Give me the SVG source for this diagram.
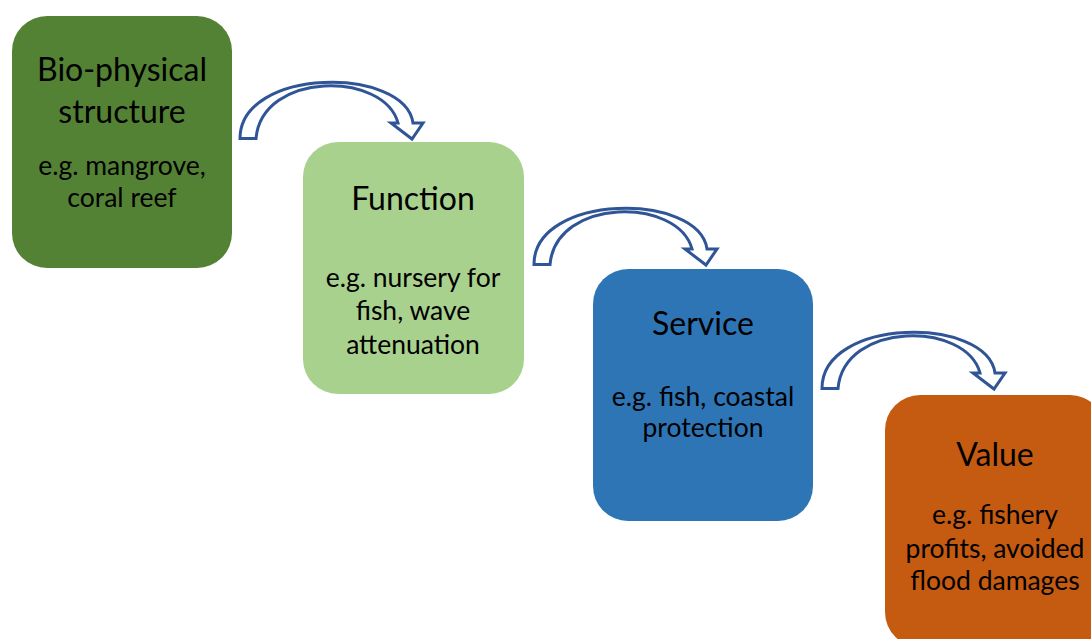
<svg xmlns="http://www.w3.org/2000/svg" width="1091" height="639" viewBox="0 0 1091 639">
<defs>
<style>
.box{stroke:none}
.t{font-family:Lato,"Open Sans",sans-serif;font-size:32px;fill:#000;text-anchor:middle}
.s{font-family:Lato,"Open Sans",sans-serif;font-size:26.5px;fill:#000;text-anchor:middle}
.arr{fill:#fff;stroke:#2F5597;stroke-width:3;stroke-linejoin:miter}
</style>
<path id="carrow" d="M240,138.5 C240,67 405,66 413,123 L423,123 L412,139 L391,123 L398,123 C384,71 262,71 256,138.5 Z"/>
</defs>
<rect width="1091" height="639" fill="#fff"/>
<g id="connectors">
<use href="#carrow" class="arr"/>
<use href="#carrow" class="arr" transform="translate(294,126)"/>
<use href="#carrow" class="arr" transform="translate(582,250)"/>
</g>
<g id="node-structure">
<rect class="box" x="12" y="16" width="220" height="252" rx="35" fill="#548235"/>
<text class="t" x="122" y="81">Bio-physical</text>
<text class="t" x="122" y="122.5">structure</text>
<text class="s" x="122" y="175">e.g. mangrove,</text>
<text class="s" x="122" y="206.5">coral reef</text>
</g>
<g id="node-function">
<rect class="box" x="303" y="142" width="221" height="252" rx="35" fill="#A9D18E"/>
<text class="t" x="413" y="210">Function</text>
<text class="s" x="413" y="286.5">e.g. nursery for</text>
<text class="s" x="413" y="320">fish, wave</text>
<text class="s" x="413" y="353.5">attenuation</text>
</g>
<g id="node-service">
<rect class="box" x="593" y="269" width="220" height="252" rx="35" fill="#2E75B6"/>
<text class="t" x="703" y="335">Service</text>
<text class="s" x="703" y="406">e.g. fish, coastal</text>
<text class="s" x="703" y="437">protection</text>
</g>
<g id="node-value">
<rect class="box" x="885" y="395" width="220" height="252" rx="35" fill="#C55A11"/>
<text class="t" x="995" y="466">Value</text>
<text class="s" x="995" y="524">e.g. fishery</text>
<text class="s" x="995" y="558">profits, avoided</text>
<text class="s" x="995" y="590">flood damages</text>
</g>
</svg>
